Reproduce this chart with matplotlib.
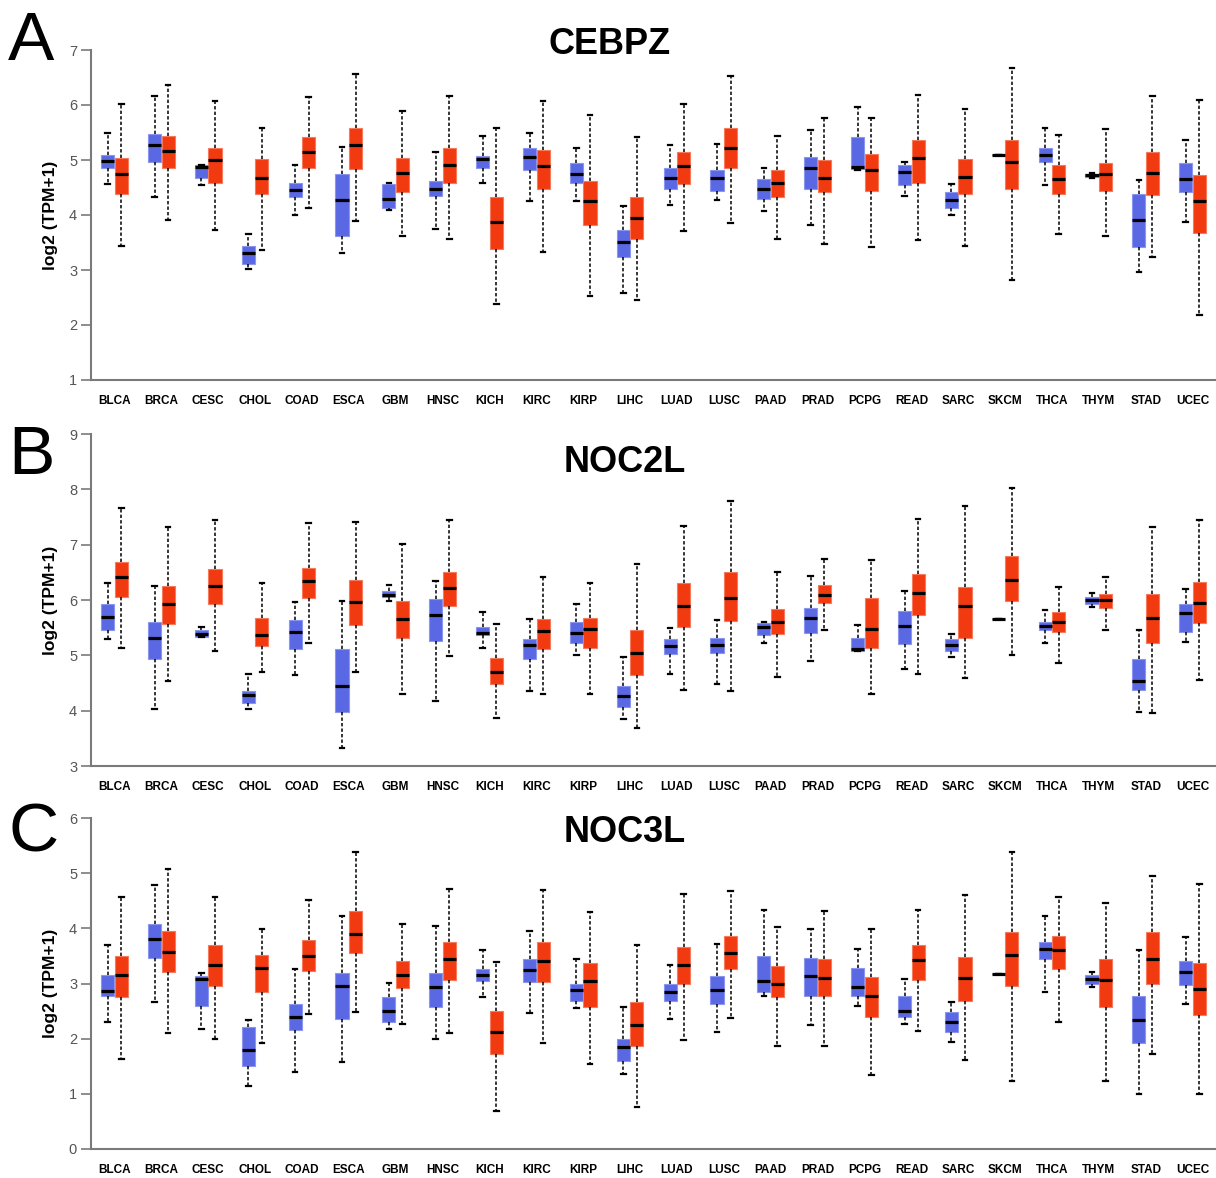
import matplotlib
matplotlib.use('Agg')
import matplotlib.pyplot as plt

# TCGA cancer types (x axis)
cancers = ['BLCA', 'BRCA', 'CESC', 'CHOL', 'COAD', 'ESCA', 'GBM', 'HNSC',
           'KICH', 'KIRC', 'KIRP', 'LIHC', 'LUAD', 'LUSC', 'PAAD', 'PRAD',
           'PCPG', 'READ', 'SARC', 'SKCM', 'THCA', 'THYM', 'STAD', 'UCEC']

# rows: (whisker low, q1, median, q3, whisker high), log2(TPM+1)
cebpz_normal = [
    (4.56, 4.85, 4.99, 5.10, 5.50), (4.32, 4.96, 5.27, 5.48, 6.17),
    (4.55, 4.68, 4.88, 4.90, 4.91), (3.02, 3.10, 3.30, 3.44, 3.65),
    (4.00, 4.32, 4.45, 4.58, 4.90), (3.30, 3.61, 4.27, 4.74, 5.24),
    (4.10, 4.12, 4.29, 4.56, 4.59), (3.74, 4.35, 4.48, 4.61, 5.14),
    (4.59, 4.85, 5.01, 5.08, 5.44), (4.25, 4.82, 5.06, 5.22, 5.50),
    (4.25, 4.58, 4.75, 4.94, 5.22), (2.59, 3.23, 3.50, 3.73, 4.16),
    (4.18, 4.48, 4.68, 4.85, 5.27), (4.27, 4.44, 4.68, 4.81, 5.29),
    (4.08, 4.30, 4.48, 4.65, 4.85), (3.81, 4.47, 4.85, 5.06, 5.55),
    (4.82, 4.84, 4.88, 5.42, 5.96), (4.35, 4.55, 4.78, 4.90, 4.97),
    (4.00, 4.12, 4.27, 4.41, 4.56), (5.10, 5.10, 5.10, 5.10, 5.10),
    (4.55, 4.97, 5.09, 5.22, 5.59), (4.68, 4.69, 4.72, 4.74, 4.76),
    (2.97, 3.42, 3.91, 4.38, 4.64), (3.88, 4.41, 4.65, 4.94, 5.36),
]
cebpz_tumor = [
    (3.44, 4.38, 4.75, 5.03, 6.02), (3.91, 4.85, 5.16, 5.44, 6.36),
    (3.73, 4.59, 5.00, 5.21, 6.08), (3.36, 4.38, 4.67, 5.01, 5.58),
    (4.12, 4.85, 5.14, 5.41, 6.15), (3.89, 4.84, 5.27, 5.59, 6.56),
    (3.62, 4.42, 4.76, 5.03, 5.89), (3.56, 4.58, 4.91, 5.22, 6.17),
    (2.38, 3.39, 3.88, 4.33, 5.59), (3.33, 4.48, 4.89, 5.19, 6.08),
    (2.53, 3.81, 4.25, 4.62, 5.81), (2.45, 3.56, 3.94, 4.32, 5.41),
    (3.70, 4.56, 4.89, 5.15, 6.02), (3.86, 4.85, 5.21, 5.58, 6.52),
    (3.56, 4.32, 4.59, 4.82, 5.44), (3.47, 4.41, 4.68, 5.00, 5.77),
    (3.41, 4.44, 4.81, 5.11, 5.77), (3.55, 4.59, 5.03, 5.36, 6.18),
    (3.44, 4.38, 4.70, 5.02, 5.93), (2.82, 4.48, 4.97, 5.36, 6.67),
    (3.65, 4.38, 4.65, 4.90, 5.45), (3.61, 4.44, 4.75, 4.94, 5.56),
    (3.24, 4.36, 4.76, 5.15, 6.17), (2.19, 3.68, 4.25, 4.72, 6.10),
]
noc2l_normal = [
    (5.29, 5.46, 5.69, 5.92, 6.31), (4.03, 4.94, 5.31, 5.61, 6.26),
    (5.33, 5.34, 5.38, 5.45, 5.52), (4.03, 4.13, 4.29, 4.36, 4.66),
    (4.64, 5.11, 5.42, 5.64, 5.97), (3.33, 3.98, 4.45, 5.11, 5.98),
    (5.98, 6.05, 6.09, 6.17, 6.28), (4.17, 5.26, 5.73, 6.02, 6.35),
    (5.14, 5.37, 5.40, 5.52, 5.78), (4.35, 4.93, 5.19, 5.29, 5.66),
    (5.00, 5.22, 5.40, 5.61, 5.93), (3.85, 4.07, 4.26, 4.44, 4.97),
    (4.66, 5.02, 5.17, 5.29, 5.50), (4.48, 5.04, 5.19, 5.31, 5.63),
    (5.22, 5.37, 5.51, 5.58, 5.60), (4.90, 5.40, 5.67, 5.85, 6.44),
    (5.08, 5.08, 5.11, 5.32, 5.54), (4.76, 5.20, 5.53, 5.81, 6.17),
    (4.97, 5.08, 5.19, 5.29, 5.39), (5.66, 5.66, 5.66, 5.66, 5.66),
    (5.23, 5.46, 5.53, 5.61, 5.82), (5.87, 5.93, 6.00, 6.05, 6.12),
    (3.97, 4.38, 4.53, 4.94, 5.45), (5.25, 5.42, 5.76, 5.92, 6.20),
]
noc2l_tumor = [
    (5.13, 6.05, 6.41, 6.69, 7.67), (4.53, 5.56, 5.92, 6.26, 7.32),
    (5.08, 5.93, 6.25, 6.56, 7.44), (4.69, 5.16, 5.37, 5.67, 6.31),
    (5.22, 6.03, 6.34, 6.57, 7.39), (4.69, 5.54, 5.96, 6.37, 7.41),
    (4.31, 5.31, 5.65, 5.99, 7.01), (4.99, 5.90, 6.21, 6.51, 7.44),
    (3.86, 4.49, 4.69, 4.96, 5.57), (4.30, 5.11, 5.44, 5.65, 6.42),
    (4.31, 5.14, 5.47, 5.68, 6.30), (3.68, 4.65, 5.05, 5.46, 6.65),
    (4.38, 5.52, 5.89, 6.30, 7.33), (4.36, 5.62, 6.03, 6.50, 7.79),
    (4.61, 5.38, 5.61, 5.83, 6.51), (5.45, 5.94, 6.09, 6.27, 6.74),
    (4.30, 5.13, 5.47, 6.03, 6.72), (4.66, 5.73, 6.13, 6.47, 7.47),
    (4.59, 5.32, 5.89, 6.24, 7.69), (5.00, 5.98, 6.36, 6.80, 8.02),
    (4.87, 5.42, 5.61, 5.78, 6.24), (5.45, 5.85, 6.00, 6.10, 6.42),
    (3.95, 5.23, 5.67, 6.10, 7.32), (4.55, 5.58, 5.94, 6.33, 7.44),
]
noc3l_normal = [
    (2.30, 2.77, 2.86, 3.16, 3.69), (2.67, 3.47, 3.81, 4.07, 4.79),
    (2.18, 2.60, 3.08, 3.13, 3.19), (1.15, 1.51, 1.79, 2.21, 2.33),
    (1.39, 2.15, 2.39, 2.62, 3.27), (1.58, 2.36, 2.95, 3.19, 4.23),
    (2.18, 2.30, 2.51, 2.75, 3.01), (1.99, 2.57, 2.93, 3.19, 4.05),
    (2.76, 3.04, 3.15, 3.27, 3.60), (2.47, 3.02, 3.24, 3.45, 3.96),
    (2.56, 2.68, 2.88, 3.00, 3.44), (1.36, 1.60, 1.84, 2.00, 2.57),
    (2.36, 2.68, 2.85, 3.00, 3.34), (2.12, 2.62, 2.88, 3.14, 3.72),
    (2.77, 2.84, 3.04, 3.49, 4.34), (2.24, 2.77, 3.13, 3.47, 3.98),
    (2.60, 2.77, 2.93, 3.29, 3.63), (2.27, 2.40, 2.50, 2.77, 3.09),
    (1.94, 2.12, 2.30, 2.48, 2.66), (3.17, 3.17, 3.17, 3.17, 3.17),
    (2.85, 3.44, 3.63, 3.76, 4.23), (2.93, 2.99, 3.08, 3.15, 3.21),
    (1.00, 1.93, 2.34, 2.77, 3.61), (2.62, 2.97, 3.20, 3.40, 3.84),
]
noc3l_tumor = [
    (1.63, 2.75, 3.16, 3.50, 4.57), (2.10, 3.20, 3.58, 3.96, 5.08),
    (1.99, 2.96, 3.33, 3.69, 4.57), (1.92, 2.84, 3.28, 3.52, 3.99),
    (2.45, 3.22, 3.49, 3.78, 4.52), (2.48, 3.56, 3.90, 4.31, 5.38),
    (2.27, 2.91, 3.16, 3.40, 4.08), (2.10, 3.07, 3.44, 3.75, 4.71),
    (0.68, 1.73, 2.12, 2.51, 3.39), (1.92, 3.03, 3.40, 3.75, 4.70),
    (1.54, 2.57, 3.04, 3.38, 4.30), (0.77, 1.86, 2.24, 2.66, 3.69),
    (1.97, 2.99, 3.33, 3.66, 4.63), (2.37, 3.26, 3.56, 3.87, 4.67),
    (1.86, 2.75, 3.00, 3.32, 4.02), (1.86, 2.77, 3.10, 3.45, 4.32),
    (1.35, 2.39, 2.77, 3.11, 3.98), (2.13, 3.07, 3.42, 3.69, 4.34),
    (1.61, 2.69, 3.10, 3.48, 4.60), (1.24, 2.96, 3.51, 3.93, 5.38),
    (2.31, 3.27, 3.60, 3.87, 4.56), (1.24, 2.57, 3.06, 3.45, 4.46),
    (1.72, 3.00, 3.44, 3.93, 4.95), (1.00, 2.42, 2.90, 3.38, 4.80),
]

genes = ['CEBPZ', 'NOC2L', 'NOC3L']
letters = ['A', 'B', 'C']
ylims = [(1, 7), (3, 9), (0, 6)]

plt.rcParams['font.family'] = ['Liberation Sans', 'DejaVu Sans']

blue = '#5a68e4'
blue_edge = '#8a96f0'
red = '#f23a10'
red_edge = '#f77a5c'
grey = '#7a7a7a'


def to_stats(rows):
    return [dict(whislo=r[0], q1=r[1], med=r[2], q3=r[3], whishi=r[4], fliers=[])
            for r in rows]


W, H = 1216, 1178
fig = plt.figure(figsize=(W / 100, H / 100), dpi=100)

# axes boxes in pixels: (top, bottom)
rows_px = [(50, 380), (434, 766), (818, 1149)]
title_x = [610, 625, 625]
title_y = [44, 462, 832]
letter_y = [42, 456, 834]
data = [(cebpz_normal, cebpz_tumor), (noc2l_normal, noc2l_tumor),
        (noc3l_normal, noc3l_tumor)]

x = list(range(len(cancers)))
for k in range(3):
    top, bot = rows_px[k]
    ax = fig.add_axes([91 / W, 1 - bot / H, (W - 91) / W, (bot - top) / H])
    normal, tumor = data[k]
    for rows, off, fc, ec in ((normal, -0.145, blue, blue_edge),
                              (tumor, 0.145, red, red_edge)):
        ax.bxp(to_stats(rows), positions=[i + off for i in x], widths=0.28,
               patch_artist=True, showfliers=False, manage_ticks=False,
               boxprops=dict(facecolor=fc, edgecolor=ec, linewidth=0.8),
               medianprops=dict(color='black', linewidth=2.3),
               whiskerprops=dict(color='black', linestyle=(0, (2.2, 1.4)), linewidth=1.1),
               capprops=dict(color='black', linewidth=1.6),
               capwidths=0.1)
    ax.set_xlim(-0.5, 23.5)
    ax.set_ylim(*ylims[k])
    ax.set_yticks(range(ylims[k][0], ylims[k][1] + 1))
    ax.set_xticks(x)
    ax.set_xticklabels(cancers, fontsize=8.5, fontweight='bold')
    ax.tick_params(axis='x', length=0, pad=11)
    ax.tick_params(axis='y', length=7, width=1.2, color=grey, labelcolor='#555555',
                   labelsize=10.5, pad=3)
    for s in ('top', 'right'):
        ax.spines[s].set_visible(False)
    for s in ('left', 'bottom'):
        ax.spines[s].set_color(grey)
        ax.spines[s].set_linewidth(1.5)
    ax.set_ylabel('log2 (TPM+1)', fontsize=12.5, fontweight='bold', labelpad=8)

    fig.text(title_x[k] / W, 1 - title_y[k] / H, genes[k], ha='center', va='center',
             fontsize=26, fontweight='bold')
    fig.text(8 / W, 1 - letter_y[k] / H, letters[k], ha='left', va='center',
             fontsize=50)

fig.savefig('out.png', dpi=100)
